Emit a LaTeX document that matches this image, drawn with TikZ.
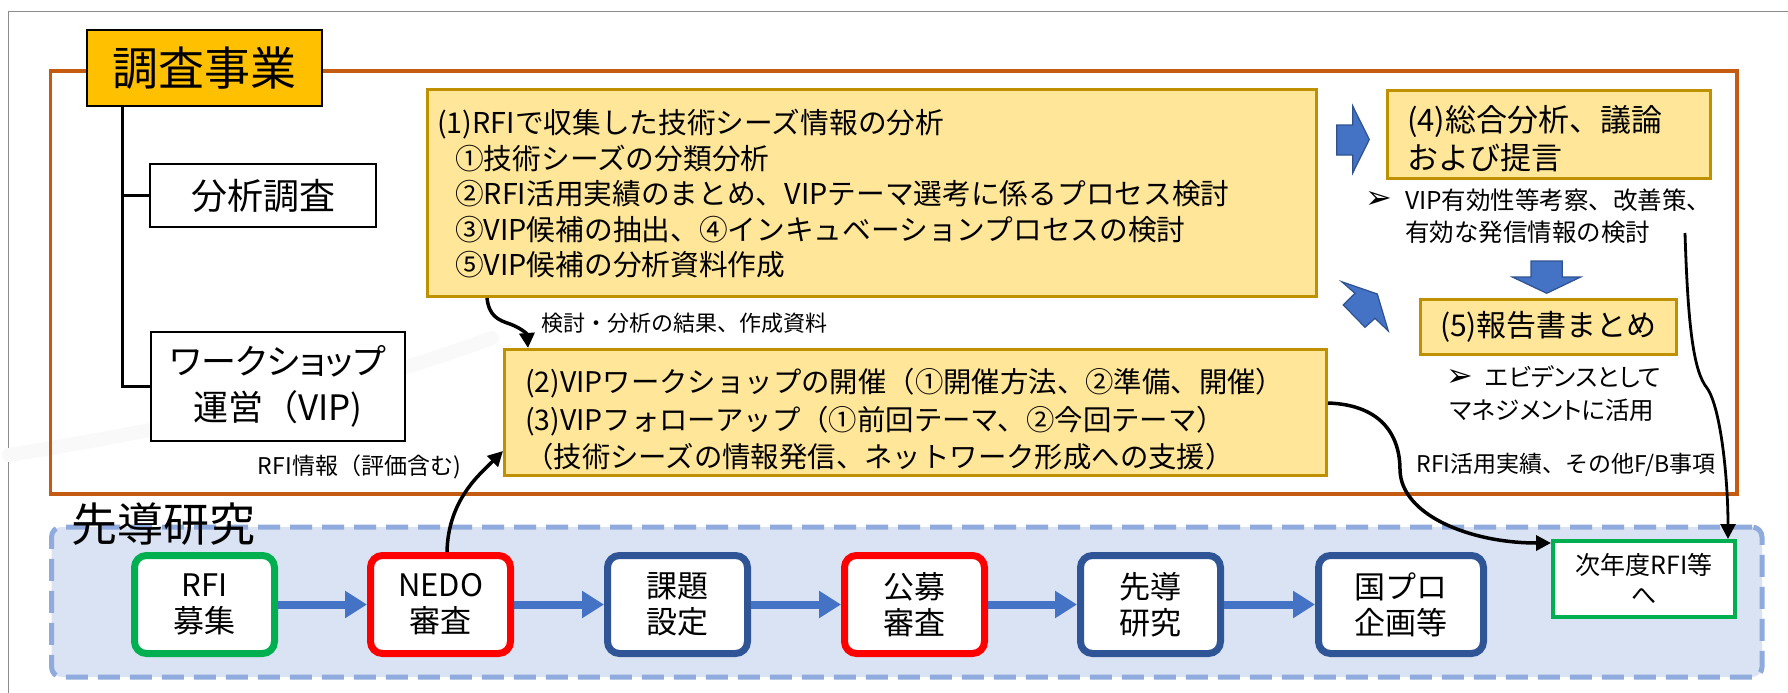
\documentclass[tikz,border=0pt]{standalone}
\usepackage{fontspec}
\setmainfont{Noto Sans CJK JP}
\newfontfamily\pfont{Noto Sans CJK JP}[RawFeature=+palt]
\newfontfamily\dejavu{DejaVu Sans}
\usetikzlibrary{arrows.meta}
\newcommand{\setfs}[2]{\fontsize{#1pt}{#2pt}\selectfont}
\definecolor{frameorange}{HTML}{C55A11}
\definecolor{titleorange}{HTML}{FFC000}
\definecolor{boxfill}{HTML}{FFE699}
\definecolor{boxgold}{HTML}{BF9000}
\definecolor{arrowblue}{HTML}{4472C4}
\definecolor{arrowblueline}{HTML}{2F528F}
\definecolor{dashblue}{HTML}{8FAADC}
\definecolor{dashfill}{HTML}{DAE3F3}
\definecolor{procgreen}{HTML}{00B050}
\definecolor{procred}{HTML}{FF0000}
\definecolor{procblue}{HTML}{2F5597}
\definecolor{framegray}{HTML}{8C8C8C}
\begin{document}
\begin{tikzpicture}[x=1pt,y=-1pt,
  goldbox/.style={draw=boxgold, fill=boxfill, line width=3pt, inner sep=0pt},
  titlebox/.style={draw=black, fill=titleorange, line width=2pt, inner sep=0pt, font=\setfs{46}{50}},
  whitebox/.style={draw=black, fill=white, line width=2pt, inner sep=0pt, align=center},
  proc/.style={draw=#1, fill=white, line width=7pt, rounded corners=12pt, minimum width=140pt, minimum height=98pt, inner sep=0pt, align=center, font=\setfs{31}{36}},
  flow/.style={draw=arrowblue, line width=8pt, -{Triangle[length=22pt,width=26pt]}},
  conn/.style={draw=black, line width=3.5pt, -{Triangle[length=15pt,width=15pt]}},
  blockarrow/.style={fill=arrowblue, draw=arrowblueline, line width=1.2pt, line join=miter},
  tree/.style={draw=black, line width=3pt},
  lbl/.style={inner sep=0pt, font=\setfs{23}{28}},
  bullet/.style={inner sep=0pt, font=\dejavu\setfs{32}{34}},
  swoosh/.style={draw=black!2.5, line width=14pt, line cap=round}
]
\useasboundingbox (0,0) rectangle (1788,693);
\fill[white] (0,0) rectangle (1788,693);
\draw[framegray, line width=1.5pt] (8.3,693) -- (8.3,11.7) -- (1788,11.7);
\draw[swoosh] (9,455) .. controls (150,432) and (330,398) .. (492,338);

% survey frame
\node[draw=frameorange, line width=3.5pt, minimum width=1686.5pt, minimum height=423pt, inner sep=0pt] (survey) at (893.75,282.5) {};

% title and tree
\node[titlebox, minimum width=235pt, minimum height=76pt] (chosa) at (204.5,68) {調査事業};
\node[whitebox, minimum width=226pt, minimum height=63pt, font=\setfs{36}{40}] (bunseki) at (263,195.5) {分析調査};
\node[whitebox, minimum width=254.5pt, minimum height=109pt, font=\setfs{35}{46}] (ws) at (277.75,386.5) {{\pfont ワークショップ}\\運営（VIP)};
\coordinate (trunk) at ([xshift=36.5pt]chosa.south west);
\draw[tree] (trunk) |- (ws.west);
\draw[tree] (trunk |- bunseki.west) -- (bunseki.west);

% box (1)
\node[goldbox, minimum width=889pt, minimum height=207pt] (b1) at (872,193) {};
\node[anchor=west, align=left, inner sep=0pt, font=\setfs{28.7}{35.5}] (b1t) at (437,194) {(1)RFIで収集した技術シーズ情報の分析\\
\hspace*{18pt}①技術シーズの分類分析\\
\hspace*{18pt}②RFI活用実績のまとめ、VIPテーマ選考に係るプロセス検討\\
\hspace*{18pt}③VIP候補の抽出、④インキュベーションプロセスの検討\\
\hspace*{18pt}⑤VIP候補の分析資料作成};

% box (2)
\node[goldbox, minimum width=822pt, minimum height=126pt] (b2) at (915.5,412.5) {};
\node[anchor=west, align=left, inner sep=0pt, font=\setfs{28.4}{37.5}] (b2t) at (525,419.5) {(2)VIPワークショップの開催（①開催方法、②準備、開催）\\
(3)VIPフォローアップ（①前回テーマ、②今回テーマ）\\
（技術シーズの情報発信、ネットワーク形成への支援）};

% box (4)
\node[goldbox, minimum width=323pt, minimum height=88pt] (b4) at (1549,134.5) {};
\node[anchor=west, align=left, inner sep=0pt, font=\setfs{31}{38}] (b4t) at (1407,139) {(4)総合分析、議論\\および提言};
\node[bullet] (bul4) at (1379,200) {➢};
\node[anchor=west, align=left, inner sep=0pt, font=\setfs{24.5}{32}] (b4n) at (1405,216) {VIP有効性等考察、改善策、\\有効な発信情報の検討};

% box (5)
\node[goldbox, minimum width=256pt, minimum height=55pt, font=\setfs{30}{34}] (b5) at (1548.5,327) {(5)報告書まとめ};
\node[bullet] (bul5) at (1459.5,378) {➢};
\node[anchor=west, inner sep=0pt, font=\pfont\setfs{24.5}{30}] (b5n1) at (1485,377) {エビデンスとして};
\node[anchor=west, inner sep=0pt, font=\pfont\setfs{24.5}{30}] (b5n2) at (1450,410) {マネジメントに活用};

% block arrows
\draw[blockarrow] (1336.7,125) -- (1352.7,125) -- (1352.7,106) -- (1369.3,139.5) -- (1352.7,173) -- (1352.7,155) -- (1336.7,155) -- cycle;
\draw[blockarrow] (1531,261) -- (1562.3,261) -- (1562.3,277) -- (1580.7,277) -- (1546.7,293.3) -- (1512.3,277) -- (1531,277) -- cycle;
\draw[blockarrow] (1341.7,281.7) -- (1377.3,294) -- (1388.3,331) -- (1375,318.3) -- (1365,327.3) -- (1343.3,305) -- (1355,293.3) -- cycle;

% labels
\node[lbl, anchor=west, font=\setfs{22}{26}] (lblA) at (541,323) {検討・分析の結果、作成資料};
\node[lbl, anchor=east] (lblB) at (461,467) {RFI情報（評価含む)};
\node[lbl] (lblC) at (1566,465) {RFI活用実績、その他F/B事項};

% leading research
\node[draw=dashblue, fill=dashfill, line width=5pt, dash pattern=on 22pt off 10pt, rounded corners=10pt, minimum width=1710.5pt, minimum height=150pt, inner sep=0pt] (lead) at (906.75,602) {};
\node[inner sep=0pt, font=\setfs{46}{50}] (leadt) at (163.5,524) {先導研究};

\node[proc=procgreen] (p1) at (204.5,604.5) {RFI\\募集};
\node[proc=procred] (p2) at (440.5,604.5) {NEDO\\審査};
\node[proc=procblue] (p3) at (677.5,604.5) {課題\\設定};
\node[proc=procred] (p4) at (914.5,604.5) {公募\\審査};
\node[proc=procblue] (p5) at (1150.5,604.5) {先導\\研究};
\node[proc=procblue, minimum width=165pt] (p6) at (1401,604.5) {国プロ\\企画等};
\draw[flow] (p1) -- (p2);
\draw[flow] (p2) -- (p3);
\draw[flow] (p3) -- (p4);
\draw[flow] (p4) -- (p5);
\draw[flow] (p5) -- (p6);

\node[draw=procgreen, fill=white, line width=4pt, minimum width=182pt, minimum height=76pt, inner sep=0pt, align=center, font=\setfs{25}{30}] (next) at (1644,579) {次年度RFI等\\へ};

% connectors
\draw[conn] ([xshift=61pt]b1.south west) .. controls (489,316) and (498,320) .. (510,324) .. controls (521,328) and (527,334) .. ([xshift=25pt]b2.north west);
\draw[conn] ([xshift=6.5pt]p2.north) .. controls (448,500) and (480,474) .. ([yshift=-38.5pt]b2.west);
\draw[conn] ([yshift=9.5pt]b2.east) .. controls (1384,405) and (1400,438) .. (1400,470) .. controls (1401,515) and (1470,543) .. ([yshift=36pt]next.west);
\coordinate (c4) at (1685,233);
\draw[conn, line width=2.8pt] (c4) .. controls (1688,330) and (1694,372) .. (1707,388) .. controls (1721,408) and (1728,480) .. ([xshift=-9pt]next.north east);
\end{tikzpicture}
\end{document}
